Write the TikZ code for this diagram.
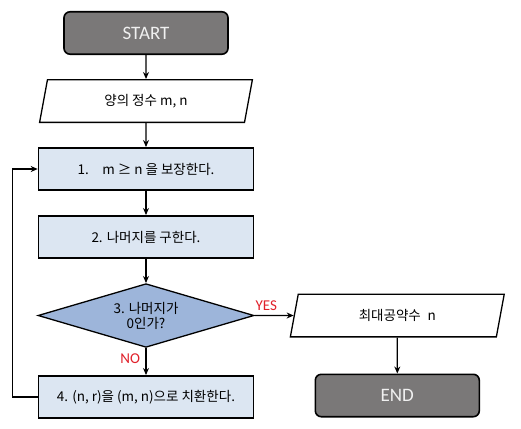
\documentclass[tikz,border=0pt]{standalone}
\usepackage{fontspec}
\setmainfont{Noto Sans CJK KR}
\newfontfamily\latinfont{Carlito}
\usetikzlibrary{arrows.meta,positioning,shapes.geometric}

\definecolor{termgray}{HTML}{7A7878}
\definecolor{boxblue}{HTML}{DCE6F2}
\definecolor{diablue}{HTML}{9DB5DA}
\definecolor{labelred}{HTML}{E0202A}

\begin{document}
\begin{tikzpicture}[
  x=1pt,y=1pt,
  node distance=24pt and 39pt,
  font=\fontsize{13.5}{16}\selectfont,
  terminal/.style={draw,line width=1.6pt,rounded corners=6pt,fill=termgray,text=white!94!black,
    minimum width=164pt,minimum height=42.4pt,font=\latinfont\fontsize{19}{22}\selectfont},
  io/.style={draw,line width=1.3pt,trapezium,trapezium left angle=80,trapezium right angle=100,
    trapezium stretches=true,minimum width=215pt,minimum height=42.7pt},
  process/.style={draw,line width=1.6pt,fill=boxblue,minimum width=215pt,minimum height=42.4pt},
  decision/.style={draw,line width=1.3pt,diamond,aspect=3.3,fill=diablue,minimum width=216pt,
    minimum height=63.7pt,inner sep=1pt,align=center,font=\fontsize{13.5}{15}\selectfont},
  flow/.style={line width=1.2pt,-{Stealth[length=7pt,width=6pt]}},
  answer/.style={text=labelred,font=\latinfont\fontsize{15}{18}\selectfont}
]
  \useasboundingbox (0,0) rectangle (521,-428);

  \node[terminal] (start) at (146,-33) {START};
  \node[io,below=of start] (input) {양의 정수 m, n};
  \node[process,below=of input] (ensure) {1.\quad m ≥ n 을 보장한다.};
  \node[process,below=of ensure] (remain) {2. 나머지를 구한다.};
  \node[decision,below=of remain] (check) {3. 나머지가\\0인가?};
  \node[process,below=27pt of check] (swap) {4. (n, r)을 (m, n)으로 치환한다.};
  \node[io,right=of check] (output) {최대공약수\enspace n};
  \node[terminal,below=36pt of output] (finish) {END};

  \draw[flow] (start) -- (input);
  \draw[flow] (input) -- (ensure);
  \draw[flow] (ensure) -- (remain);
  \draw[flow] (remain) -- (check);
  \draw[flow] (check) -- node[answer,left,pos=0.4,xshift=-2pt]{NO} (swap);
  \draw[flow] (check) -- node[answer,above,pos=0.3,yshift=1pt]{YES} (output);
  \draw[flow] (output) -- (finish);
  \draw[flow] (swap.west) -- ++(-25,0) |- (ensure.west);
\end{tikzpicture}
\end{document}
